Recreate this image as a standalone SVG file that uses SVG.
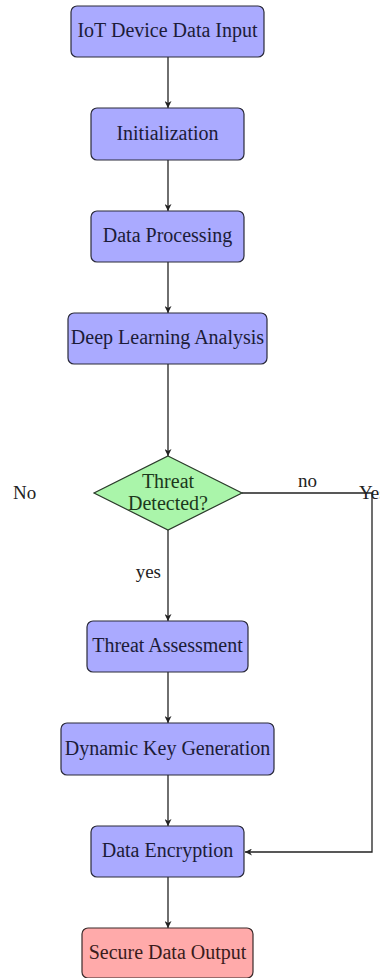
<svg xmlns="http://www.w3.org/2000/svg" width="380" height="978" viewBox="0 0 380 978">
<defs>
<marker id="arr" viewBox="0 0 10 10" refX="10" refY="5" markerWidth="7" markerHeight="7" markerUnits="userSpaceOnUse" orient="auto">
<path d="M0,0 L10,5 L0,10 L3,5 Z" fill="#222"/>
</marker>
<style>
.box{fill:#aaaaff;stroke:#2a2a3a;stroke-width:1.2}
.red{fill:#ffaaaa;stroke:#3a2a2a;stroke-width:1.2}
.dia{fill:#aaf5aa;stroke:#2a3a2a;stroke-width:1.2}
.t{font-family:"Liberation Serif","DejaVu Serif",serif;font-size:20px;fill:#1c1c38;text-anchor:middle}
.tr{fill:#3a1c1c}
.tg{fill:#1c381c}
.lab{font-family:"Liberation Serif","DejaVu Serif",serif;font-size:19px;fill:#222}
.c{fill:none;stroke:#222;stroke-width:1.3;marker-end:url(#arr)}
</style>
</defs>
<rect width="380" height="978" fill="#fff"/>
<g id="connectors">
<line class="c" x1="168" y1="57" x2="168" y2="108"/>
<line class="c" x1="168" y1="160" x2="168" y2="211"/>
<line class="c" x1="168" y1="262" x2="168" y2="313"/>
<line class="c" x1="168" y1="364" x2="168" y2="456"/>
<line class="c" x1="168" y1="530" x2="168" y2="621"/>
<line class="c" x1="168" y1="672" x2="168" y2="723"/>
<line class="c" x1="168" y1="775" x2="168" y2="826"/>
<line class="c" x1="168" y1="877" x2="168" y2="928"/>
<polyline class="c" points="242,493 372,493 372,852 245,852"/>
<text class="lab" x="298" y="487">no</text>
<text class="lab" x="161" y="578" text-anchor="end">yes</text>
</g>
<g id="n1"><rect class="box" x="71" y="6" width="193" height="51" rx="6"/><text class="t" x="167.5" y="37">IoT Device Data Input</text></g>
<g id="n2"><rect class="box" x="91" y="108" width="153" height="52" rx="6"/><text class="t" x="167.5" y="140">Initialization</text></g>
<g id="n3"><rect class="box" x="91" y="211" width="153" height="51" rx="6"/><text class="t" x="167.5" y="242">Data Processing</text></g>
<g id="n4"><rect class="box" x="68" y="313" width="199" height="51" rx="6"/><text class="t" x="167.5" y="344">Deep Learning Analysis</text></g>
<g id="n5"><polygon class="dia" points="168,456 242,493 168,530 94,493"/><text class="t tg" x="168" y="488">Threat</text><text class="t tg" x="168" y="510">Detected?</text></g>
<g id="lNo"><text class="lab" x="13" y="499">No</text></g>
<g id="lYes"><text class="lab" x="359" y="499">Yes</text></g>
<g id="n6"><rect class="box" x="87" y="621" width="161" height="51" rx="6"/><text class="t" x="167.5" y="652">Threat Assessment</text></g>
<g id="n7"><rect class="box" x="61" y="723" width="213" height="52" rx="6"/><text class="t" x="167.5" y="755">Dynamic Key Generation</text></g>
<g id="n8"><rect class="box" x="91" y="826" width="153" height="51" rx="6"/><text class="t" x="167.5" y="857">Data Encryption</text></g>
<g id="n9"><rect class="red" x="82" y="928" width="171" height="50" rx="6"/><text class="t tr" x="167.5" y="959">Secure Data Output</text></g>
</svg>
